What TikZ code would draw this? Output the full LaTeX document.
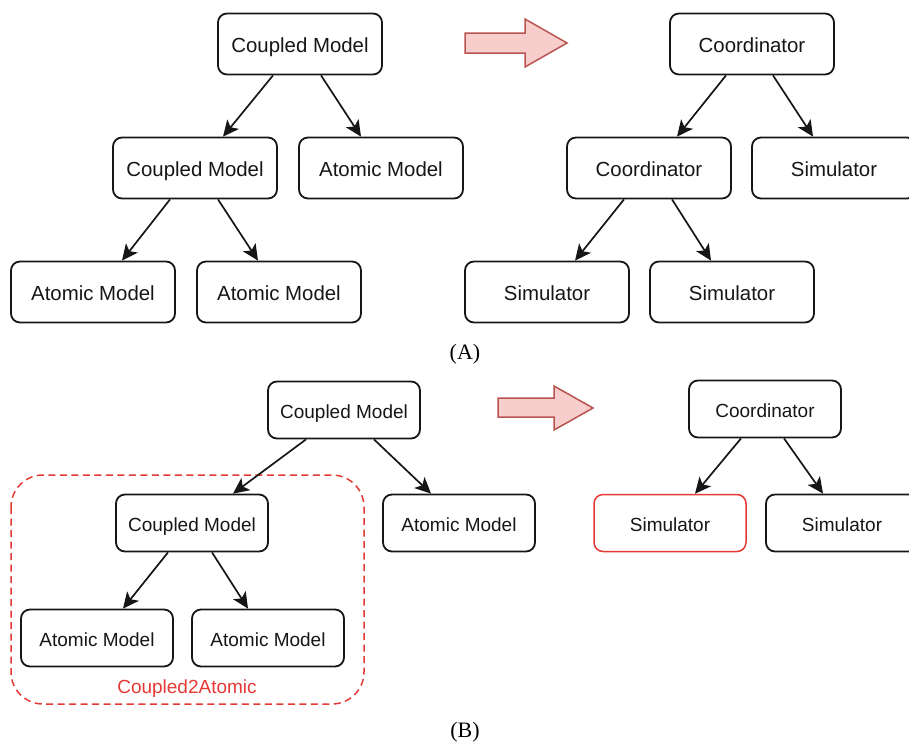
\documentclass[tikz,border=0pt]{standalone}
\usepackage{fontspec}
\setmainfont{Liberation Sans}
\newfontfamily\capfont{Liberation Serif}
\usetikzlibrary{arrows.meta}
\definecolor{boxred}{RGB}{229,57,53}
\definecolor{arrfill}{RGB}{248,206,204}
\definecolor{arrdraw}{RGB}{184,84,80}
\definecolor{txt}{RGB}{22,22,22}
\begin{document}
\begin{tikzpicture}[x=1pt,y=-1pt,
  boxA/.style={draw=txt, line width=1.8pt, rounded corners=9pt, minimum width=164pt, minimum height=61pt, inner sep=0pt, text height=16pt, text depth=0pt, text=txt, font=\fontsize{20.4}{24}\selectfont},
  boxB/.style={draw=txt, line width=1.8pt, rounded corners=9pt, minimum width=152pt, minimum height=57pt, inner sep=0pt, text height=16pt, text depth=0pt, text=txt, font=\fontsize{19}{23}\selectfont},
  link/.style={line width=1.7pt, draw=txt, -{Stealth[length=16pt,width=15pt,inset=4pt]}},
  bigarrow/.style={draw=arrdraw, fill=arrfill, line width=1.5pt, line join=miter},
  caption/.style={font=\capfont\fontsize{22}{26}\selectfont, inner sep=0pt}
]
\useasboundingbox (0,0) rectangle (909,744);
\begin{scope}
\clip (0,0) rectangle (909,744);
% ---------- (A) ----------
\node[boxA] (a1) at (300,44) {Coupled Model};
\node[boxA] (a2) at (195,168) {Coupled Model};
\node[boxA] (a3) at (381,168) {Atomic Model};
\node[boxA] (a4) at (93,292) {Atomic Model};
\node[boxA] (a5) at (279,292) {Atomic Model};

\node[boxA] (s1) at (752,44) {Coordinator};
\node[boxA] (s2) at (649,168) {Coordinator};
\node[boxA] (s3) at (834,168) {Simulator};
\node[boxA] (s4) at (547,292) {Simulator};
\node[boxA] (s5) at (732,292) {Simulator};

\draw[link] ([xshift=-27pt]a1.south) -- ([xshift=28pt]a2.north);
\draw[link] ([xshift=21pt]a1.south) -- ([xshift=-20pt]a3.north);
\draw[link] ([xshift=-25pt]a2.south) -- ([xshift=29pt]a4.north);
\draw[link] ([xshift=23pt]a2.south) -- ([xshift=-21pt]a5.north);

\draw[link] ([xshift=-26pt]s1.south) -- ([xshift=28pt]s2.north);
\draw[link] ([xshift=21pt]s1.south) -- ([xshift=-21pt]s3.north);
\draw[link] ([xshift=-25pt]s2.south) -- ([xshift=28pt]s4.north);
\draw[link] ([xshift=23pt]s2.south) -- ([xshift=-21pt]s5.north);

\draw[bigarrow] (465,33) -- (525,33) -- (525,19) -- (567,43) -- (525,67) -- (525,53) -- (465,53) -- cycle;

\node[caption] (capA) at (465,354) {(A)};

% ---------- (B) ----------
\draw[boxred, line width=1.5pt, dash pattern=on 7pt off 4.5pt, rounded corners=32pt] (11,475) rectangle (364,704);

\node[boxB] (b1) at (344,410) {Coupled Model};
\node[boxB] (b2) at (192,523) {Coupled Model};
\node[boxB] (b3) at (459,523) {Atomic Model};
\node[boxB] (b4) at (97,638) {Atomic Model};
\node[boxB] (b5) at (268,638) {Atomic Model};

\node[boxB] (t1) at (765,409) {Coordinator};
\node[boxB, draw=boxred, line width=1.5pt] (t2) at (670,523) {Simulator};
\node[boxB] (t3) at (842,523) {Simulator};

\draw[link] ([xshift=-38pt]b1.south) -- ([xshift=41pt]b2.north);
\draw[link] ([xshift=30pt]b1.south) -- ([xshift=-28pt]b3.north);
\draw[link] ([xshift=-24pt]b2.south) -- ([xshift=26pt]b4.north);
\draw[link] ([xshift=20pt]b2.south) -- ([xshift=-20pt]b5.north);

\draw[link] ([xshift=-24pt]t1.south) -- ([xshift=25pt]t2.north);
\draw[link] ([xshift=19pt]t1.south) -- ([xshift=-19pt]t3.north);

\draw[bigarrow] (498,398) -- (554,398) -- (554,386) -- (593,408) -- (554,430) -- (554,417) -- (498,417) -- cycle;

\node[text=boxred, font=\fontsize{19}{23}\selectfont, inner sep=0pt] (lbl) at (187,689) {Coupled2Atomic};

\node[caption] (capB) at (465,732) {(B)};
\end{scope}
\end{tikzpicture}
\end{document}
